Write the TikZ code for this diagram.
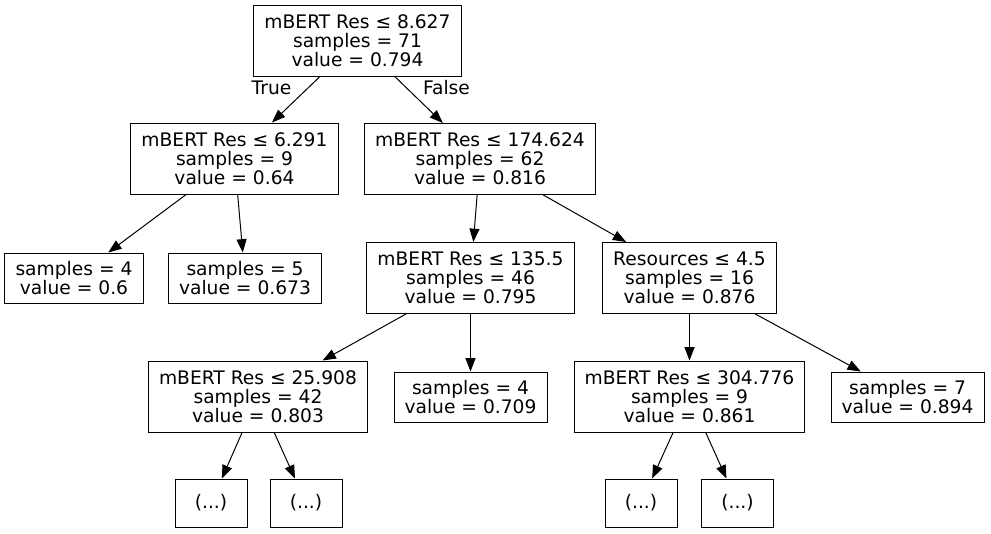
\documentclass[tikz,border=0pt]{standalone}
\usepackage{fontspec}
\setmainfont{DejaVu Sans}
\usetikzlibrary{arrows.meta}

\begin{document}
\begin{tikzpicture}[x=0.75pt, y=-0.75pt,
    font=\fontsize{14}{14.2}\selectfont,
    box/.style={draw, rectangle, align=center, inner xsep=7.9pt, line width=0.75pt},
    split/.style={box, minimum height=53.25pt},
    leaf/.style={box, minimum height=37.5pt},
    more/.style={box, minimum width=54pt, minimum height=36pt},
    edge/.style={-{Triangle[length=10pt, width=7.5pt]}, line width=0.75pt}]
    \useasboundingbox (0,0) rectangle (991,533);

    \node[split] (res8) at (357.5,40.5) {mBERT Res ≤ 8.627\\samples = 71\\value = 0.794};
    \node[split] (res6) at (234.5,158.5) {mBERT Res ≤ 6.291\\samples = 9\\value = 0.64};
    \node[split] (res174) at (480,159) {mBERT Res ≤ 174.624\\samples = 62\\value = 0.816};
    \node[leaf] (four) at (74,278) {samples = 4\\value = 0.6};
    \node[leaf] (five) at (245,278) {samples = 5\\value = 0.673};
    \node[split] (res135) at (470.5,278) {mBERT Res ≤ 135.5\\samples = 46\\value = 0.795};
    \node[split] (resources) at (689.5,278) {Resources ≤ 4.5\\samples = 16\\value = 0.876};
    \node[split] (res25) at (258,396.5) {mBERT Res ≤ 25.908\\samples = 42\\value = 0.803};
    \node[leaf] (fourb) at (470.5,397) {samples = 4\\value = 0.709};
    \node[split] (res304) at (689.5,396.5) {mBERT Res ≤ 304.776\\samples = 9\\value = 0.861};
    \node[leaf] (seven) at (907.5,397) {samples = 7\\value = 0.894};
    \node[more] (dotsa) at (211,503) {(...)};
    \node[more] (dotsb) at (306,503) {(...)};
    \node[more] (dotsc) at (641,503) {(...)};
    \node[more] (dotsd) at (737.5,503) {(...)};

    \node[inner sep=0pt] (truelbl) at (271.5,88) {True};
    \node[inner sep=0pt] (falselbl) at (446.5,88) {False};

    \draw[edge] (res8) -- (res6);
    \draw[edge] (res8) -- (res174);
    \draw[edge] (res6) -- (four);
    \draw[edge] (res6) -- (five);
    \draw[edge] (res174) -- (res135);
    \draw[edge] (res174) -- (resources);
    \draw[edge] (res135) -- (res25);
    \draw[edge] (res135) -- (fourb);
    \draw[edge] (resources) -- (res304);
    \draw[edge] (resources) -- (seven);
    \draw[edge] (res25) -- (dotsa);
    \draw[edge] (res25) -- (dotsb);
    \draw[edge] (res304) -- (dotsc);
    \draw[edge] (res304) -- (dotsd);
\end{tikzpicture}
\end{document}
